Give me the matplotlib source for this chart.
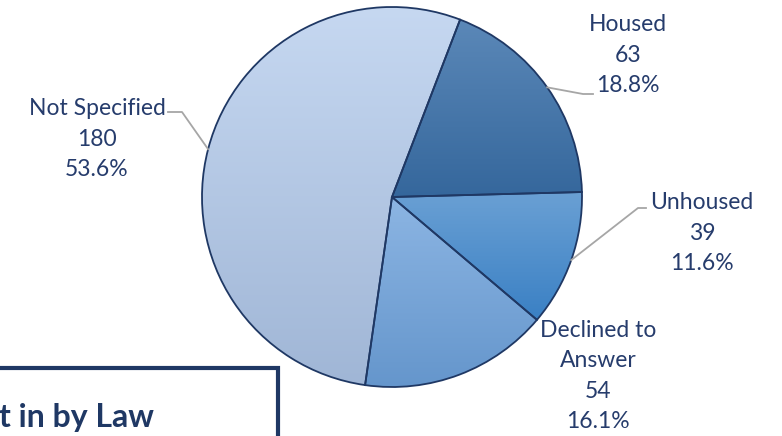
import matplotlib
matplotlib.use("Agg")
import matplotlib.pyplot as plt
import numpy as np
from matplotlib.colors import LinearSegmentedColormap

# data
labels = ["Housed", "Unhoused", "Declined to\nAnswer", "Not Specified"]
counts = [63, 39, 54, 180]
pcts = ["18.8%", "11.6%", "16.1%", "53.6%"]

# top / bottom colours of each slice's gradient
tops = ["#5b88b8", "#6aa0d4", "#8cb5e3", "#c6d8f1"]
bottoms = ["#35679c", "#3a80c4", "#6596cc", "#a0b6d6"]

edge = "#1f3864"
txt = "#263c6c"
lead = "#a6a6a6"

W, H = 782, 436
fig = plt.figure(figsize=(W / 100, H / 100), dpi=100)
ax = fig.add_axes([0, 0, 1, 1])

cx, cy, r = 392, 436 - 197, 190
wedges, _ = ax.pie(counts, startangle=69, counterclock=False,
                   center=(cx, cy), radius=r, frame=True,
                   wedgeprops=dict(edgecolor=edge, linewidth=1.3, facecolor="none"))
ax.set_xlim(0, W)
ax.set_ylim(0, H)
ax.set_aspect("equal")
ax.axis("off")

grad = np.linspace(0, 1, 256).reshape(-1, 1)
for w, t, b in zip(wedges, tops, bottoms):
    bb = w.get_path().get_extents(w.get_patch_transform())
    cmap = LinearSegmentedColormap.from_list("g", [b, t])
    im = ax.imshow(grad, cmap=cmap, origin="lower", aspect="auto",
                   extent=[bb.x0, bb.x1, bb.y0, bb.y1], zorder=0.5)
    im.set_clip_path(w)
    w.set_zorder(1)
ax.set_xlim(0, W)
ax.set_ylim(0, H)

font = "Lato"
fs = 16.5

# label spots (text centre x, block centre y in px) and leader elbows
spots = [(628, 55), (702, 233), (598, 376), (97, 139)]
elbows = [[(583, 94), (593, 94)], [(638, 208), (646, 208)], None, [(182, 112), (168, 112)]]

for w, lab, n, p, (tx, ty), el in zip(wedges, labels, counts, pcts, spots, elbows):
    ax.text(tx, H - ty, f"{lab}\n{n}\n{p}", ha="center", va="center", color=txt,
            fontsize=fs, family=font, linespacing=1.55, zorder=3)
    if el is not None:
        mid = np.deg2rad((w.theta1 + w.theta2) / 2)
        pts = [(cx + r * np.cos(mid), cy + r * np.sin(mid))] + [(x, H - y) for x, y in el]
        xs, ys = zip(*pts)
        ax.plot(xs, ys, color=lead, lw=1.3, zorder=2)

# partly visible text box at bottom left
ax.plot([-5, 278, 278], [H - 368, H - 368, -5], color=edge, lw=3, zorder=2,
        solid_joinstyle="miter")
ax.text(-1, H - 427, "t in by Law", ha="left", va="baseline", color=edge,
        fontsize=23, family=font, fontweight="bold")

fig.savefig("out.png", dpi=100)
